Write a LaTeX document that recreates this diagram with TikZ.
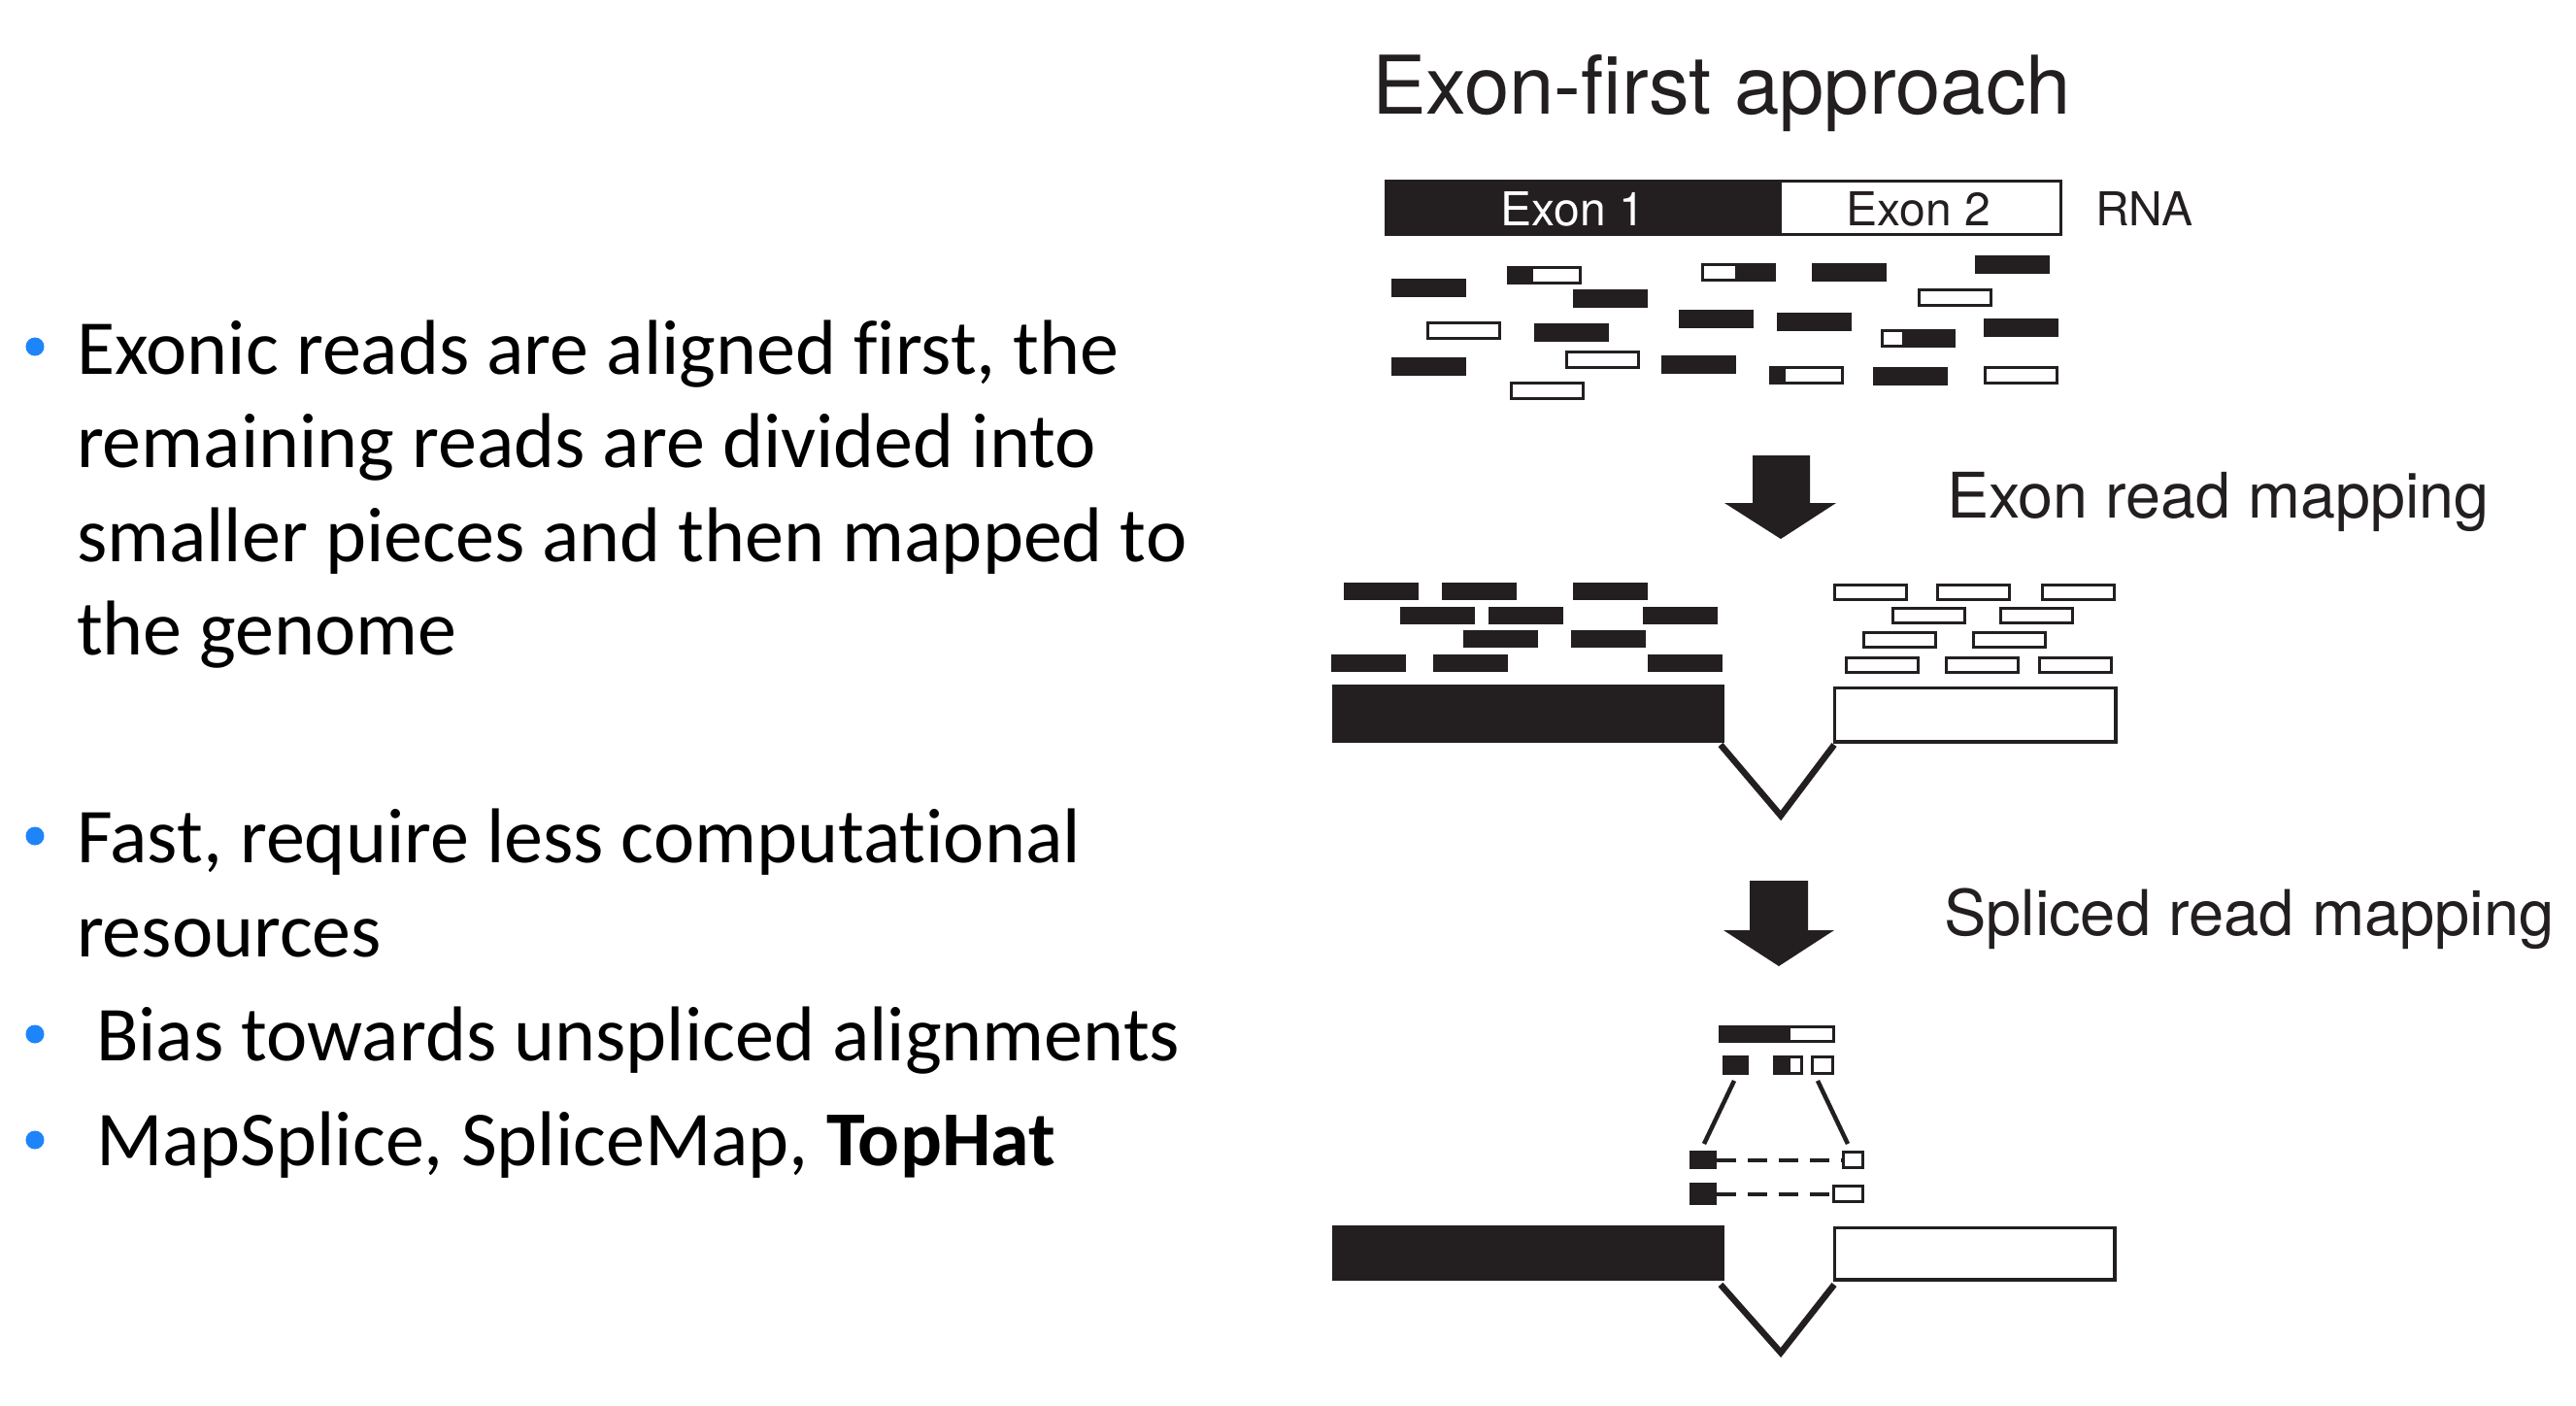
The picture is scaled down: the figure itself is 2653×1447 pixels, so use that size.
\documentclass[tikz,border=0pt]{standalone}
\usepackage{fontspec}
\setmainfont{Carlito}[Ligatures={NoCommon,NoRare}]
\newfontfamily\hel{TeX Gyre Heros}
\definecolor{ink}{RGB}{35,31,32}
\definecolor{bulletblue}{RGB}{30,132,250}
\begin{document}
\begin{tikzpicture}[x=0.01cm,y=-0.01cm,
  txt/.style={anchor=base west,inner sep=0pt,outer sep=0pt,font=\fontsize{22.76pt}{27pt}\selectfont},
  bul/.style={circle,fill=bulletblue,inner sep=0pt,minimum size=0.19cm},
  fig/.style={inner sep=0pt,outer sep=0pt,text=ink},
  blk/.style={fill=ink},
  wht/.style={fill=white,draw=ink,line width=0.035cm},
  intr/.style={draw=ink,line width=0.065cm,line join=miter},
  bigarrow/.style={fill=ink},
  link/.style={draw=ink,line width=0.045cm},
  dsh/.style={draw=ink,line width=0.035cm,dash pattern=on 0.2cm off 0.12cm}]
\useasboundingbox (0,0) rectangle (2653,1447);
\fill[white] (0,0) rectangle (2653,1447);

% ---------- left bullet text ----------
\node[bul] (b1) at (36,357) {};
\node[txt] (l1) at (79,385) {Exonic reads are aligned first, the};
\node[txt] (l2) at (79,481) {remaining reads are divided into};
\node[txt] (l3) at (79,578) {smaller pieces and then mapped to};
\node[txt] (l4) at (79,674) {the genome};
\node[bul] (b2) at (36,861) {};
\node[txt] (l5) at (79,888) {Fast, require less computational};
\node[txt] (l6) at (79,985) {resources};
\node[bul] (b3) at (36,1065) {};
\node[txt] (l7) at (99,1092) {Bias towards unspliced alignments};
\node[bul] (b4) at (36,1174) {};
\node[txt] (l8) at (99,1200) {MapSplice, SpliceMap, \textbf{TopHat}};

% ---------- title ----------
\node[fig,anchor=base west,font=\hel\fontsize{23.7pt}{28pt}\selectfont] (title) at (1413,117) {Exon-first approach};

% ---------- RNA bar ----------
\fill[blk] (1426,185) rectangle (1833,243);
\draw[wht] (1833,186.5) rectangle (2122.5,241.5);
\node[inner sep=0pt,anchor=base,text=white,font=\hel\fontsize{13.66pt}{16pt}\selectfont] (ex1) at (1620,232) {Exon 1};
\node[fig,anchor=base,font=\hel\fontsize{13.66pt}{16pt}\selectfont] (ex2) at (1976,232) {Exon 2};
\node[fig,anchor=base west,font=\hel\fontsize{13.66pt}{16pt}\selectfont] (rna) at (2158,232) {RNA};

% ---------- unmapped reads ----------
\foreach \x/\y in {1433/287,1620/298,1866/271,2034/263,1580/333,1729/319,1830/322,2043/328,1433/368,1711/366,1929/378}
  \fill[blk] (\x,\y) rectangle ++(77,19);
\foreach \x/\y in {1975/297,1469/331,1612/361,2043/377,1555/393}
  \draw[wht] (\x+1.5,\y+1.5) rectangle ++(74,16);
\foreach \x/\y/\s in {1552/274/1579,1822/377/1839}{
  \draw[wht] (\x+1.5,\y+1.5) rectangle ++(74,16);
  \fill[blk] (\x,\y) rectangle (\s,\y+19);}
\foreach \x/\y/\s in {1752/271/1787,1937/339/1959}{
  \draw[wht] (\x+1.5,\y+1.5) rectangle ++(74,16);
  \fill[blk] (\s,\y) rectangle (\x+77,\y+19);}

% ---------- arrow 1 ----------
\fill[bigarrow] (1805,469) -- (1864,469) -- (1864,518) -- (1891,518) -- (1834,555) -- (1776,518) -- (1805,518) -- cycle;
\node[fig,anchor=base west,font=\hel\fontsize{18.4pt}{22pt}\selectfont] (erm) at (2005,533) {Exon read mapping};

% ---------- exon read mapping ----------
\foreach \x/\y in {1384/600,1485/600,1620/600,1442/625,1533/625,1692/625,1507/649,1618/649,1371/674,1476/674,1697/674}
  \fill[blk] (\x,\y) rectangle ++(77,18);
\foreach \x/\y in {1888/601,1994/601,2102/601,1948/625,2059/625,1918/650,2031/650,1900/676,2003/676,2099/676}
  \draw[wht] (\x+1.5,\y+1.5) rectangle ++(74,15);
\fill[blk] (1372,705) rectangle (1776,765);
\draw[wht] (1889.5,708.5) rectangle (2179,764);
\coordinate (v1a) at (1772,767);
\coordinate (v1b) at (1834,840);
\coordinate (v1c) at (1889,767);
\draw[intr] (v1a) -- (v1b) -- (v1c);

% ---------- arrow 2 ----------
\fill[bigarrow] (1802,907) -- (1862,907) -- (1862,958) -- (1889,958) -- (1832,995) -- (1775,958) -- (1802,958) -- cycle;
\node[fig,anchor=base west,font=\hel\fontsize{18.5pt}{22pt}\selectfont] (srm) at (2002,963) {Spliced read mapping};

% ---------- spliced read mapping ----------
\draw[wht] (1771.5,1057.5) rectangle (1888.5,1072.5);
\fill[blk] (1770,1056) rectangle (1844,1074);
\fill[blk] (1774,1087) rectangle (1801,1107);
\draw[wht] (1827.5,1088.5) rectangle (1855.5,1105.5);
\fill[blk] (1826,1087) rectangle (1844,1107);
\draw[wht] (1866.5,1088.5) rectangle (1887.5,1105.5);
\coordinate (s1a) at (1786,1113);
\coordinate (s1b) at (1755,1178);
\coordinate (s2a) at (1872,1113);
\coordinate (s2b) at (1903,1178);
\draw[link] (s1a) -- (s1b);
\draw[link] (s2a) -- (s2b);
\fill[blk] (1740,1185) rectangle (1768,1204);
\draw[wht] (1898.5,1186.5) rectangle (1918.5,1202.5);
\coordinate (d1a) at (1768,1195);
\coordinate (d1b) at (1897,1195);
\draw[dsh] (d1a) -- (d1b);
\fill[blk] (1740,1218) rectangle (1768,1241);
\draw[wht] (1888.5,1221.5) rectangle (1918.5,1237.5);
\coordinate (d2a) at (1768,1230);
\coordinate (d2b) at (1887,1230);
\draw[dsh] (d2a) -- (d2b);

\fill[blk] (1372,1262) rectangle (1776,1319);
\draw[wht] (1889.5,1264.5) rectangle (2178,1318);
\coordinate (v2a) at (1772,1323);
\coordinate (v2b) at (1834,1393);
\coordinate (v2c) at (1889,1323);
\draw[intr] (v2a) -- (v2b) -- (v2c);
\end{tikzpicture}
\end{document}
